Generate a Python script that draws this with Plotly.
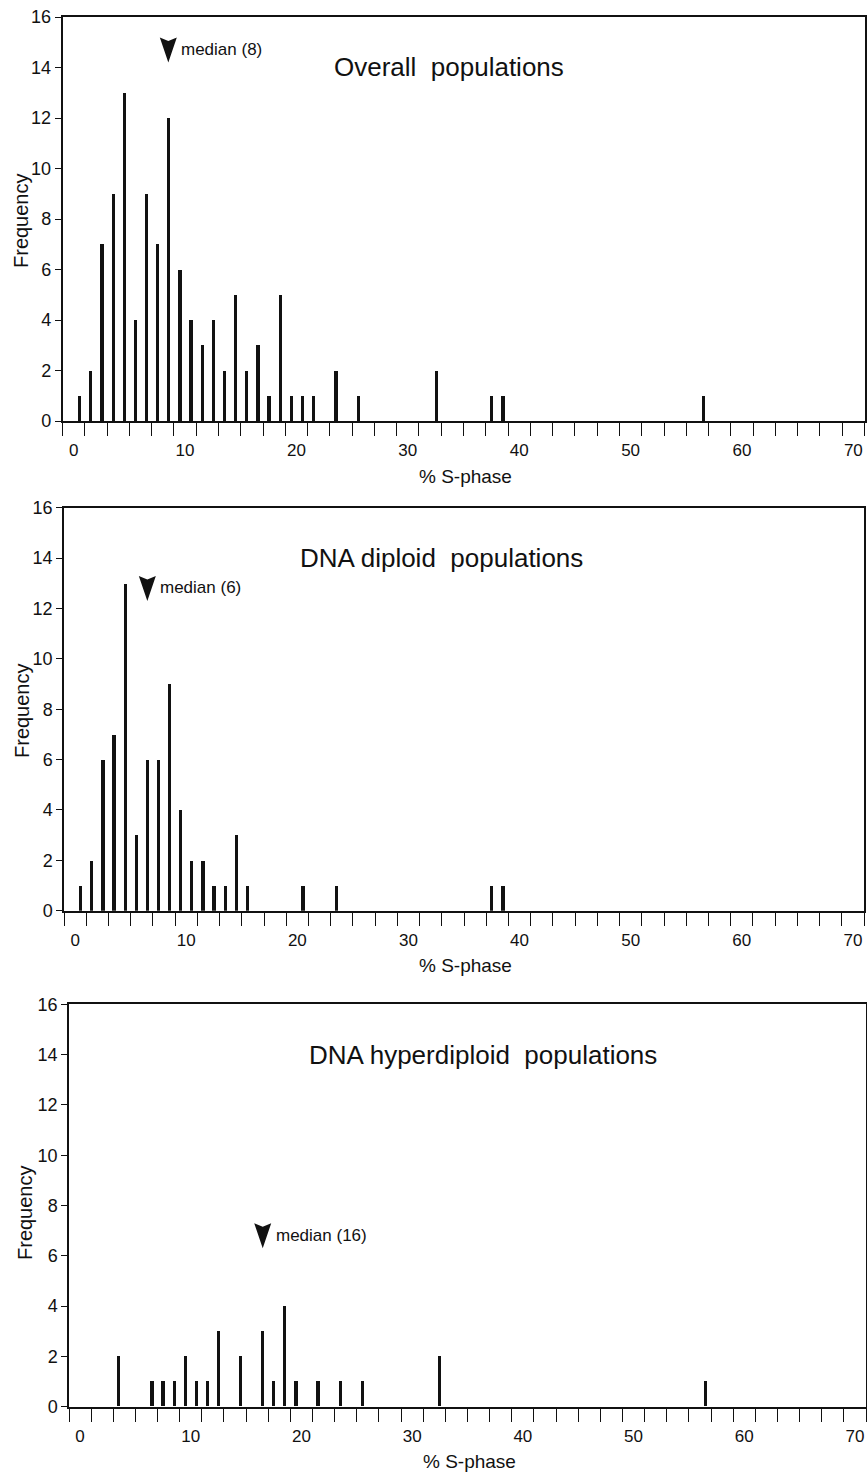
import plotly.graph_objects as go

# ---------------- data ----------------
# % S-phase bins (lower edge of 1-unit bin) and frequencies
overall_bins = [0, 1, 2, 3, 4, 5, 6, 7, 8, 9, 10, 11, 12, 13, 14, 15, 16, 17, 18, 19, 20, 21,
                23, 25, 32, 37, 38, 56]
overall_freq = [1, 2, 7, 9, 13, 4, 9, 7, 12, 6, 4, 3, 4, 2, 5, 2, 3, 1, 5, 1, 1, 1,
                2, 1, 2, 1, 1, 1]

diploid_bins = [0, 1, 2, 3, 4, 5, 6, 7, 8, 9, 10, 11, 12, 13, 14, 15, 20, 23, 37, 38]
diploid_freq = [1, 2, 6, 7, 13, 3, 6, 6, 9, 4, 2, 2, 1, 1, 3, 1, 1, 1, 1, 1]

hyper_bins = [3, 6, 7, 8, 9, 10, 11, 12, 14, 16, 17, 18, 19, 21, 23, 25, 32, 56]
hyper_freq = [2, 1, 1, 1, 2, 1, 1, 3, 2, 3, 1, 4, 1, 1, 1, 1, 2, 1]

titles = ["Overall  populations", "DNA diploid  populations", "DNA hyperdiploid  populations"]
medians = [8, 6, 16]
x_tick_labels = [0, 10, 20, 30, 40, 50, 60, 70]
y_tick_labels = [0, 2, 4, 6, 8, 10, 12, 14, 16]
x_title = "% S-phase"
y_title = "Frequency"

# ---------------- layout helpers ----------------
W, H = 867, 1475
FONT = "Liberation Sans, Arial, Helvetica, sans-serif"
BLACK = "#111111"

def fx(px):
    return px / W

def fy(py):
    return 1 - py / H

# panel pixel boxes: (left, right, top, bottom)
boxes = [(62.5, 864.5, 17, 421), (64, 864, 507.7, 910.7), (69, 866, 1004.3, 1406.7)]
title_pos = [(449, 67), (442, 558), (483, 1055)]
median_tip_y = [14.2, 12.3, 6.3]
ylab_x = [21, 22, 25]
ylab_y = [221, 711, 1213]

panels = [(overall_bins, overall_freq), (diploid_bins, diploid_freq), (hyper_bins, hyper_freq)]

fig = go.Figure()
minor_vals = list(range(-1, 72, 2))

layout = dict(
    width=W, height=H, autosize=False,
    margin=dict(l=0, r=0, t=0, b=0, pad=0),
    paper_bgcolor="white", plot_bgcolor="white",
    showlegend=False,
    font=dict(family=FONT, color=BLACK),
    bargap=0,
)
annotations = []
shapes = []

for i, (bins, freq) in enumerate(panels):
    n = "" if i == 0 else str(i + 1)
    xa, ya = "x" + n, "y" + n
    centers = [b + 0.5 for b in bins]
    fig.add_trace(go.Bar(
        x=centers, y=freq, width=0.29,
        marker=dict(color=BLACK, line=dict(width=0)),
        xaxis=xa, yaxis=ya, hoverinfo="x+y",
    ))
    l, r, t, b = boxes[i]
    layout["xaxis" + n] = dict(
        domain=[fx(l), fx(r)], range=[-1, 71], anchor=ya, automargin=False,
        showline=True, mirror=True, linecolor=BLACK, linewidth=2,
        showgrid=False, zeroline=False,
        tickmode="array", tickvals=x_tick_labels, ticktext=[str(v) for v in x_tick_labels],
        ticks="outside", ticklen=13, tickcolor="rgba(0,0,0,0)",
        tickfont=dict(size=17, family=FONT, color=BLACK),
        minor=dict(tickmode="array", tickvals=minor_vals, ticks="outside",
                   ticklen=13, tickwidth=1.3, tickcolor=BLACK, showgrid=False),
    )
    layout["yaxis" + n] = dict(
        domain=[fy(b), fy(t)], range=[0, 16], anchor=xa, automargin=False,
        showline=True, mirror=True, linecolor=BLACK, linewidth=1.5,
        showgrid=False, zeroline=False,
        tickmode="array", tickvals=y_tick_labels,
        ticks="outside", ticklen=6, tickwidth=1.2, tickcolor=BLACK,
        tickfont=dict(size=18, family=FONT, color=BLACK),
    )
    # panel title
    tx, ty = title_pos[i]
    annotations.append(dict(
        text=titles[i], xref="paper", yref="paper", x=fx(tx), y=fy(ty),
        xanchor="center", yanchor="middle", showarrow=False,
        font=dict(size=26, family=FONT, color=BLACK),
    ))
    # x axis title
    annotations.append(dict(
        text=x_title, xref="paper", yref="paper", x=fx((l + r) / 2 + 2), y=fy(b + 55),
        xanchor="center", yanchor="middle", showarrow=False,
        font=dict(size=19, family=FONT, color=BLACK),
    ))
    # y axis title
    annotations.append(dict(
        text=y_title, xref="paper", yref="paper", x=fx(ylab_x[i]), y=fy(ylab_y[i]),
        xanchor="center", yanchor="middle", showarrow=False, textangle=-90,
        font=dict(size=20, family=FONT, color=BLACK),
    ))
    # median arrow + label
    mx = medians[i] + 0.5
    shapes.append(dict(
        type="path", xref=xa, yref=ya, xsizemode="pixel", ysizemode="pixel",
        xanchor=mx, yanchor=median_tip_y[i],
        path="M -8.5,25 L 0,21.5 L 8.5,25 L 0,0 Z",
        fillcolor=BLACK, line=dict(width=0),
    ))
    annotations.append(dict(
        text=f"median ({medians[i]})", xref=xa, yref=ya, x=mx, y=median_tip_y[i],
        xshift=11, yshift=13, xanchor="left", yanchor="middle", showarrow=False,
        font=dict(size=17, family=FONT, color=BLACK),
    ))

layout["annotations"] = annotations
layout["shapes"] = shapes
fig.update_layout(**layout)
fig.write_html(
    "out.html",
    config={"displayModeBar": False},
    post_script="document.body.style.margin='0';document.body.style.overflow='hidden';",
)
